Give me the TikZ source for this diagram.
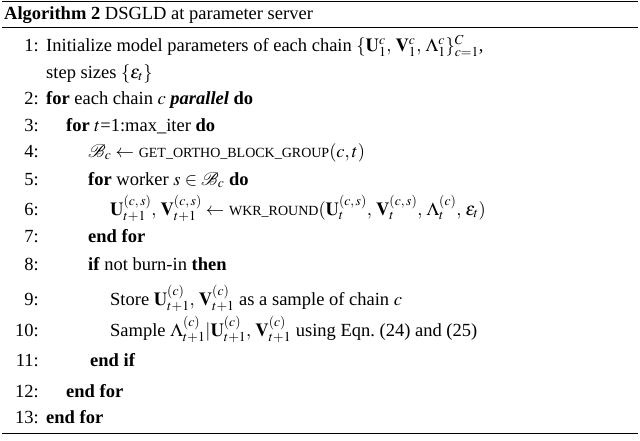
\documentclass[tikz,border=0pt]{standalone}
\usepackage{mathptmx}
\usepackage{fontspec}
\setmainfont{Liberation Serif}
\newcommand{\smc}[1]{{\fontsize{14}{14}\selectfont #1}}
\begin{document}
\begin{tikzpicture}[x=1pt,y=-1pt,
  txt/.style={anchor=base west,inner sep=0pt,font=\fontsize{18.5}{20}\selectfont},
  num/.style={anchor=base east,inner sep=0pt,font=\fontsize{18.5}{20}\selectfont}]
\useasboundingbox (0,0) rectangle (640,440);
\draw[line width=1.2pt] (2,1.5) -- (638,1.5);
\draw[line width=0.7pt] (2,27) -- (638,27);
\draw[line width=1.2pt] (2,433.5) -- (638,433.5);
\node[txt] (title) at (4,19) {\textbf{Algorithm 2} DSGLD at parameter server};
\node[num] (n1) at (39,51) {1:};
\node[txt] (l1) at (46,51) {Initialize model parameters of each chain $\{\mathbf{U}_1^c,\,\mathbf{V}_1^c,\,\Lambda_1^c\}_{c=1}^C$,};
\node[txt] (l1b) at (46,78) {step sizes $\{\epsilon_t\}$};
\node[num] (n2) at (39,104) {2:};
\node[txt] (l2) at (46,104) {\textbf{for} each chain $c$ \textbf{\textit{parallel}} \textbf{do}};
\node[num] (n3) at (39,131) {3:};
\node[txt] (l3) at (66,131) {\textbf{for} $t$=1:max\_iter \textbf{do}};
\node[num] (n4) at (39,157) {4:};
\node[txt] (l4) at (88,157) {$\mathcal{B}_c\leftarrow$ \smc{GET\_ORTHO\_BLOCK\_GROUP}$(c,t)$};
\node[num] (n5) at (39,185) {5:};
\node[txt] (l5) at (88,185) {\textbf{for} worker $s\in\mathcal{B}_c$ \textbf{do}};
\node[num] (n6) at (39,215) {6:};
\node[txt] (l6) at (110,215) {$\mathbf{U}_{t+1}^{(c,\,s)},\,\mathbf{V}_{t+1}^{(c,\,s)}\leftarrow$ \smc{WKR\_ROUND}$(\mathbf{U}_t^{(c,\,s)},\,\mathbf{V}_t^{(c,\,s)},\,\Lambda_t^{(c)},\,\epsilon_t)$};
\node[num] (n7) at (39,242) {7:};
\node[txt] (l7) at (88,242) {\textbf{end for}};
\node[num] (n8) at (39,270) {8:};
\node[txt] (l8) at (88,270) {\textbf{if} not burn-in \textbf{then}};
\node[num] (n9) at (39,305) {9:};
\node[txt] (l9) at (110,305) {Store $\mathbf{U}_{t+1}^{(c)},\,\mathbf{V}_{t+1}^{(c)}$ as a sample of chain $c$};
\node[num] (n10) at (39,336) {10:};
\node[txt] (l10) at (110,336) {Sample $\Lambda_{t+1}^{(c)}|\mathbf{U}_{t+1}^{(c)},\,\mathbf{V}_{t+1}^{(c)}$ using Eqn.~(24) and (25)};
\node[num] (n11) at (39,366) {11:};
\node[txt] (l11) at (90,366) {\textbf{end if}};
\node[num] (n12) at (39,397) {12:};
\node[txt] (l12) at (66,397) {\textbf{end for}};
\node[num] (n13) at (39,423) {13:};
\node[txt] (l13) at (46,423) {\textbf{end for}};
\end{tikzpicture}
\end{document}
